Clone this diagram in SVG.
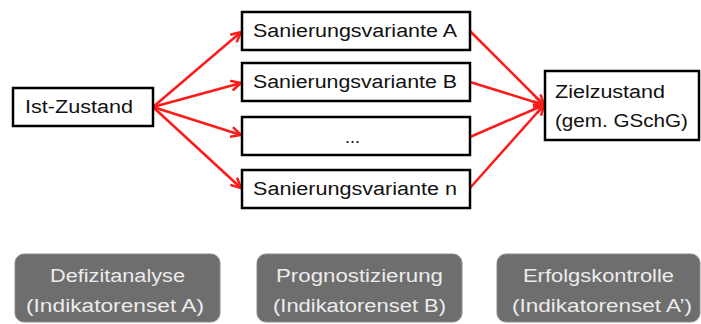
<svg xmlns="http://www.w3.org/2000/svg" width="701" height="324" viewBox="0 0 701 324">
<defs>
<style>
.box{fill:#fff;stroke:#000;stroke-width:2.5}
.t{font-family:"Liberation Sans",Arial,sans-serif;font-size:18px;fill:#111}
.gbox{fill:#6e6e6e;stroke:#8a8a8a;stroke-width:1}
.gt{font-family:"Liberation Sans",Arial,sans-serif;font-size:18px;fill:#ececec;text-anchor:middle}
.con{stroke:#ff1a1a;stroke-width:2.5;fill:none}
</style>
<marker id="ah" viewBox="0 0 12 12" refX="11" refY="6" markerWidth="12" markerHeight="12" markerUnits="userSpaceOnUse" orient="auto">
<path d="M1,1 L11,6 L1,11" fill="none" stroke="#ff1a1a" stroke-width="2.5"/>
</marker>
</defs>
<rect width="701" height="324" fill="#fff"/>
<g id="connectors">
<line class="con" x1="153" y1="107" x2="241" y2="32" marker-end="url(#ah)"/>
<line class="con" x1="153" y1="107" x2="241" y2="83" marker-end="url(#ah)"/>
<line class="con" x1="153" y1="107" x2="241" y2="135" marker-end="url(#ah)"/>
<line class="con" x1="153" y1="107" x2="241" y2="188" marker-end="url(#ah)"/>
<line class="con" x1="470" y1="31" x2="544" y2="105" marker-end="url(#ah)"/>
<line class="con" x1="470" y1="82" x2="544" y2="105" marker-end="url(#ah)"/>
<line class="con" x1="470" y1="137" x2="544" y2="105" marker-end="url(#ah)"/>
<line class="con" x1="470" y1="188" x2="544" y2="105" marker-end="url(#ah)"/>
</g>
<g id="ist">
<rect class="box" x="13" y="88" width="140" height="38"/>
<text class="t" x="25" y="113" textLength="108" lengthAdjust="spacingAndGlyphs">Ist-Zustand</text>
</g>
<g id="varA">
<rect class="box" x="242" y="12" width="228" height="38"/>
<text class="t" x="253" y="37" textLength="204" lengthAdjust="spacingAndGlyphs">Sanierungsvariante A</text>
</g>
<g id="varB">
<rect class="box" x="242" y="63" width="228" height="38"/>
<text class="t" x="253" y="88" textLength="204" lengthAdjust="spacingAndGlyphs">Sanierungsvariante B</text>
</g>
<g id="varDots">
<rect class="box" x="242" y="117" width="228" height="38"/>
<text class="t" x="345" y="143">...</text>
</g>
<g id="varN">
<rect class="box" x="242" y="170" width="228" height="38"/>
<text class="t" x="253" y="195" textLength="204" lengthAdjust="spacingAndGlyphs">Sanierungsvariante n</text>
</g>
<g id="ziel">
<rect class="box" x="545" y="71" width="154" height="69"/>
<text class="t" x="555" y="98" textLength="110" lengthAdjust="spacingAndGlyphs">Zielzustand</text>
<text class="t" x="555" y="127" textLength="133" lengthAdjust="spacingAndGlyphs">(gem. GSchG)</text>
</g>
<g id="defizit">
<rect class="gbox" x="15" y="254" width="205" height="68" rx="9"/>
<text class="gt" x="117.5" y="282" textLength="135" lengthAdjust="spacingAndGlyphs">Defizitanalyse</text>
<text class="gt" x="115" y="312" textLength="178" lengthAdjust="spacingAndGlyphs">(Indikatorenset A)</text>
</g>
<g id="prognose">
<rect class="gbox" x="257" y="254" width="205" height="68" rx="9"/>
<text class="gt" x="359.5" y="282" textLength="167" lengthAdjust="spacingAndGlyphs">Prognostizierung</text>
<text class="gt" x="359.5" y="312" textLength="173" lengthAdjust="spacingAndGlyphs">(Indikatorenset B)</text>
</g>
<g id="erfolg">
<rect class="gbox" x="497" y="254" width="203" height="68" rx="9"/>
<text class="gt" x="598.5" y="282" textLength="151" lengthAdjust="spacingAndGlyphs">Erfolgskontrolle</text>
<text class="gt" x="602" y="312" textLength="180" lengthAdjust="spacingAndGlyphs">(Indikatorenset A’)</text>
</g>
</svg>
